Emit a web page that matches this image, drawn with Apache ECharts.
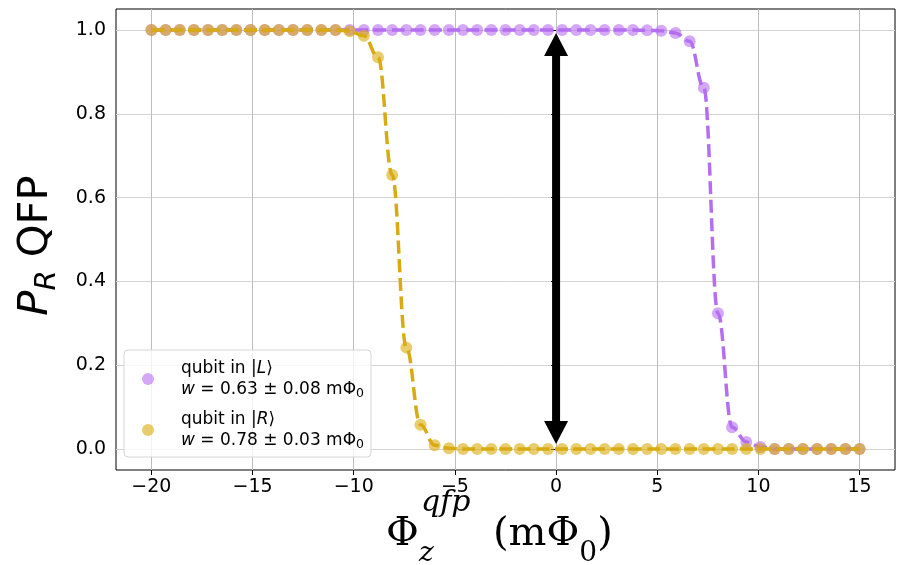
<!DOCTYPE html>
<html>
<head>
<meta charset="utf-8">
<script src="https://cdn.jsdelivr.net/npm/echarts@6/dist/echarts.min.js"></script>
<style>
  html, body { margin: 0; padding: 0; background: #fff; }
  #chart { width: 897px; height: 565px; }
</style>
</head>
<body>
<div id="chart"></div>
<script>
// QFP bias flux (mΦ0) at which the switching probability was measured
const fluxValues = [
  -20, -19.3, -18.6, -17.9, -17.2, -16.5, -15.8, -15.1, -14.4, -13.7,
  -13, -12.3, -11.6, -10.9, -10.2, -9.5, -8.8, -8.1, -7.4, -6.7,
  -6, -5.3, -4.6, -3.9, -3.2, -2.5, -1.8, -1.1, -0.4, 0.3,
  1, 1.7, 2.4, 3.1, 3.8, 4.5, 5.2, 5.9, 6.6, 7.3,
  8, 8.7, 9.4, 10.1, 10.8, 11.5, 12.2, 12.9, 13.6, 14.3,
  15
];

// P_R of the QFP with the qubit prepared in |L>
const probL = [
  1, 1, 1, 1, 1, 1, 1, 1, 1, 1,
  1, 1, 1, 1, 1, 1, 1, 1, 1, 1,
  1, 1, 1, 1, 1, 1, 1, 1, 1, 1,
  1, 1, 1, 1, 1, 0.999, 0.998, 0.993, 0.973, 0.862,
  0.324, 0.052, 0.017, 0.005, 0, 0, 0, 0, 0, 0,
  0
];

// P_R of the QFP with the qubit prepared in |R>
const probR = [
  1, 1, 1, 1, 1, 1, 1, 1, 1, 1,
  1, 1, 1, 1, 0.997, 0.986, 0.935, 0.654, 0.242, 0.058,
  0.009, 0.002, 0, 0, 0, 0, 0, 0, 0, 0,
  0, 0, 0, 0, 0, 0, 0, 0, 0, 0,
  0, 0, 0, 0, 0, 0, 0, 0, 0, 0,
  0
];

const xTicks = [-20, -15, -10, -5, 0, 5, 10, 15];
const yTicks = [0, 0.2, 0.4, 0.6, 0.8, 1.0];

// fitted widths shown in the legend
const legendL = { state: 'L', w: '0.63', err: '0.08' };
const legendR = { state: 'R', w: '0.78', err: '0.03' };

// double-headed arrow marking the readout window at zero flux
const arrowX = 0;
const arrowFrom = 0.012;
const arrowTo = 0.993;

const pairs = ys => fluxValues.map((x, i) => [x, ys[i]]);
const legendInfo = { L: legendL, R: legendR };
const MINUS = '\u2212';

const chart = echarts.init(document.getElementById('chart'), null, { renderer: 'canvas' });

const sansRich = (size, extra) => Object.assign({
  fontFamily: 'DejaVu Sans', fontSize: size, color: '#000'
}, extra || {});

const serif = (size, extra) => Object.assign({
  fontFamily: 'DejaVu Serif', fontSize: size, fill: '#000'
}, extra || {});

const option = {
  animation: false,
  backgroundColor: '#fff',
  grid: {
    left: 116, top: 9, right: 2, bottom: 95,
    show: true, borderColor: '#000', borderWidth: 1, backgroundColor: 'transparent'
  },
  xAxis: {
    type: 'value', min: -21.75, max: 16.75,
    axisLine: { show: false, onZero: false },
    axisTick: { show: true, length: 5, lineStyle: { color: '#000', width: 1 }, customValues: xTicks },
    axisLabel: {
      customValues: xTicks,
      formatter: v => String(v).replace('-', MINUS),
      fontFamily: 'DejaVu Sans', fontSize: 19, color: '#000', margin: 8
    },
    splitLine: { show: true, lineStyle: { color: '#bdbdbd', width: 1 } }
  },
  yAxis: {
    type: 'value', min: -0.05, max: 1.05,
    axisLine: { show: false },
    axisTick: { show: true, length: 5, lineStyle: { color: '#000', width: 1 }, customValues: yTicks },
    axisLabel: {
      customValues: yTicks,
      formatter: v => v.toFixed(1),
      fontFamily: 'DejaVu Sans', fontSize: 19, color: '#000', margin: 10
    },
    splitLine: { show: true, lineStyle: { color: '#d4d4d4', width: 1 } },
    name: '{i|P}{s|R}{n| QFP}',
    nameLocation: 'middle',
    nameRotate: 90,
    nameGap: 55,
    nameTextStyle: {
      padding: [0, 12, 0, 0],
      rich: {
        i: sansRich(41.7, { fontStyle: 'italic', lineHeight: 50 }),
        s: sansRich(29, { fontStyle: 'italic', lineHeight: 50, padding: [23, 0, 0, 0] }),
        n: sansRich(41.7, { lineHeight: 50 })
      }
    }
  },
  legend: {
    data: [{ name: 'L', icon: 'circle' }, { name: 'R', icon: 'circle' }],
    orient: 'vertical',
    left: 124, top: 350,
    itemWidth: 12, itemHeight: 12, itemGap: 11,
    padding: [10, 7, 6, 18],
    backgroundColor: 'rgba(255,255,255,0.8)',
    borderColor: '#d6d6d6', borderWidth: 1, borderRadius: 4,
    formatter: name => {
      const e = legendInfo[name];
      return '{t|qubit in |}{it|' + e.state + '}{t|\u27E9}\n' +
             '{it|w}{t| = ' + e.w + ' \u00B1 ' + e.err + ' m\u03A6}{sub|0}';
    },
    textStyle: {
      padding: [0, 0, 0, 22],
      rich: {
        t: sansRich(17, { lineHeight: 21 }),
        it: sansRich(17, { fontStyle: 'italic', lineHeight: 21 }),
        sub: sansRich(12.5, { lineHeight: 21, padding: [8, 0, 0, 0] })
      }
    }
  },
  graphic: [
    {
      type: 'text', x: 386, y: 535, z: 50,
      style: serif(40, { text: '\u03A6', verticalAlign: 'middle', align: 'left' })
    },
    {
      type: 'text', x: 421, y: 503, z: 50,
      style: serif(30, { text: 'qfp', fontStyle: 'italic', verticalAlign: 'middle', align: 'left' })
    },
    {
      type: 'text', x: 419, y: 554, z: 50,
      style: serif(28, { text: 'z', fontStyle: 'italic', verticalAlign: 'middle', align: 'left' })
    },
    {
      type: 'text', x: 493, y: 535, z: 50,
      style: {
        text: '{m|(m\u03A6}{s|0}{m|)}',
        verticalAlign: 'middle', align: 'left',
        rich: {
          m: serif(40, { lineHeight: 48 }),
          s: serif(28, { lineHeight: 48, padding: [38, 0, 0, 0] })
        }
      }
    }
  ],
  series: [
    {
      type: 'scatter', name: 'L', data: pairs(probL),
      symbol: 'circle', symbolSize: 12,
      itemStyle: { color: 'rgba(180,100,240,0.7)' }, z: 2
    },
    {
      type: 'line', name: 'fitL', data: pairs(probL),
      smooth: 0.4, smoothMonotone: 'x', showSymbol: false, symbol: 'none',
      lineStyle: { color: '#b46ef0', width: 3.5, type: [13, 5.5] }, z: 3
    },
    {
      type: 'scatter', name: 'R', data: pairs(probR),
      symbol: 'circle', symbolSize: 12,
      itemStyle: { color: 'rgba(218,172,10,0.75)' }, z: 4
    },
    {
      type: 'line', name: 'fitR', data: pairs(probR),
      smooth: 0.4, smoothMonotone: 'x', showSymbol: false, symbol: 'none',
      lineStyle: { color: '#d8ab12', width: 3.5, type: [13, 5.5] }, z: 5
    },
    {
      type: 'custom', name: 'arrow', silent: true, z: 10,
      data: [[arrowX, arrowFrom, arrowTo]],
      renderItem: (params, api) => {
        const bottom = api.coord([api.value(0), api.value(1)]);
        const top = api.coord([api.value(0), api.value(2)]);
        const x = top[0];
        const head = 23, hw = 12, sw = 4;
        const points = [
          [x, top[1]], [x + hw, top[1] + head], [x + sw, top[1] + head],
          [x + sw, bottom[1] - head], [x + hw, bottom[1] - head], [x, bottom[1]],
          [x - hw, bottom[1] - head], [x - sw, bottom[1] - head],
          [x - sw, top[1] + head], [x - hw, top[1] + head]
        ];
        return { type: 'polygon', shape: { points }, style: { fill: '#000' } };
      }
    }
  ]
};

chart.setOption(option);
</script>
</body>
</html>
